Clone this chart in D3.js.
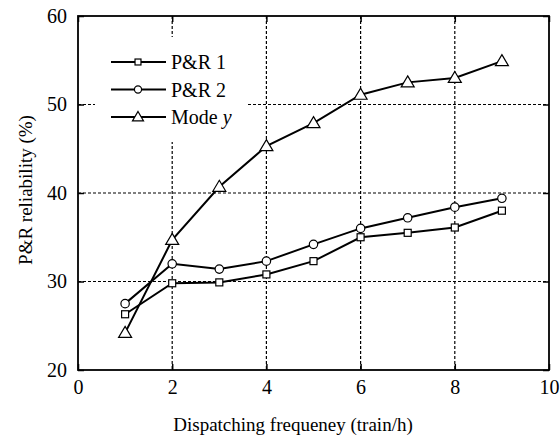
<!DOCTYPE html>
<meta charset="utf-8">
<style>
  body { margin: 0; background: #fff; }
</style>
<svg id="chart" width="560" height="439"></svg>
<script src="https://d3js.org/d3.v7.min.js"></script>
<script>

var freq = [1, 2, 3, 4, 5, 6, 7, 8, 9];
var pr1 = [26.3, 29.8, 29.9, 30.8, 32.3, 35.0, 35.5, 36.1, 38.0];
var pr2 = [27.5, 32.0, 31.4, 32.3, 34.2, 36.0, 37.2, 38.4, 39.4];
var modeY = [24.2, 34.7, 40.7, 45.3, 47.9, 51.1, 52.5, 53.0, 54.9];
var xTicks = [0, 2, 4, 6, 8, 10];
var yTicks = [20, 30, 40, 50, 60];

var series = [
	{ name: "P&R 1", values: pr1, marker: "square" },
	{ name: "P&R 2", values: pr2, marker: "circle" },
	{ name: "Mode", italic: "y", values: modeY, marker: "triangle" }
];

var serif = "'Liberation Serif'";

var svg = d3.select("svg#chart"),
	pLeft = 78, pRight = 549, pTop = 16, pBottom = 370;

var x = d3.scaleLinear().domain([0, 10]).range([pLeft, pRight]);
var y = d3.scaleLinear().domain([20, 60]).range([pBottom, pTop]);

// grid
var grid = svg.append("g")
	.attr("stroke", "#000")
	.attr("stroke-width", 1.2)
	.attr("stroke-dasharray", "3,2");

grid.selectAll("line.v")
	.data(xTicks.slice(1, -1))
	.enter().append("line")
		.attr("x1", function(d) { return x(d); })
		.attr("x2", function(d) { return x(d); })
		.attr("y1", pTop)
		.attr("y2", pBottom);

grid.selectAll("line.h")
	.data(yTicks.slice(1, -1))
	.enter().append("line")
		.attr("x1", pLeft)
		.attr("x2", pRight)
		.attr("y1", function(d) { return y(d); })
		.attr("y2", function(d) { return y(d); });

// legend background hides the grid behind it
svg.append("rect")
	.attr("x", 95).attr("y", 37)
	.attr("width", 152).attr("height", 105)
	.attr("fill", "#fff");

// axes, ticks inside on all four sides
var tick = 6;
svg.append("g")
	.attr("transform", "translate(0," + pBottom + ")")
	.call(d3.axisBottom(x).tickValues(xTicks).tickSizeInner(-tick).tickSizeOuter(0).tickPadding(10));
svg.append("g")
	.attr("transform", "translate(0," + pTop + ")")
	.call(d3.axisTop(x).tickValues(xTicks).tickSizeInner(-tick).tickSizeOuter(0).tickFormat(""));
svg.append("g")
	.attr("transform", "translate(" + pLeft + ",0)")
	.call(d3.axisLeft(y).tickValues(yTicks).tickSizeInner(-tick).tickSizeOuter(0).tickPadding(11));
svg.append("g")
	.attr("transform", "translate(" + pRight + ",0)")
	.call(d3.axisRight(y).tickValues(yTicks).tickSizeInner(-tick).tickSizeOuter(0).tickFormat(""));

svg.selectAll(".domain").remove();
svg.selectAll(".tick line").attr("stroke-width", 1.5);
svg.selectAll(".tick text")
	.style("font-family", serif)
	.style("font-size", "20px")
	.attr("fill", "#000");

svg.append("rect")
	.attr("x", pLeft).attr("y", pTop)
	.attr("width", pRight - pLeft).attr("height", pBottom - pTop)
	.attr("fill", "none")
	.attr("stroke", "#000")
	.attr("stroke-width", 1.8);

// markers
function drawMarker(g, type, cx, cy, s) {
	s = s || 1;
	if (type === "square") {
		g.append("rect").attr("x", cx - 3.5 * s).attr("y", cy - 3.5 * s).attr("width", 7 * s).attr("height", 7 * s)
			.attr("fill", "#fff").attr("stroke", "#000").attr("stroke-width", 1.2);
	} else if (type === "circle") {
		g.append("circle").attr("cx", cx).attr("cy", cy).attr("r", 4.2 * s)
			.attr("fill", "#fff").attr("stroke", "#000").attr("stroke-width", 1.2);
	} else {
		g.append("path")
			.attr("d", "M" + cx + "," + (cy - 6.5 * s) + "L" + (cx + 6.5 * s) + "," + (cy + 4.5 * s) + "L" + (cx - 6.5 * s) + "," + (cy + 4.5 * s) + "Z")
			.attr("fill", "#fff").attr("stroke", "#000").attr("stroke-width", 1.2);
	}
}

var line = d3.line()
	.x(function(d) { return x(d[0]); })
	.y(function(d) { return y(d[1]); });

series.forEach(function(s) {
	var pts = freq.map(function(f, i) { return [f, s.values[i]]; });
	svg.append("path")
		.attr("d", line(pts))
		.attr("fill", "none")
		.attr("stroke", "#000")
		.attr("stroke-width", 2);
	var g = svg.append("g");
	pts.forEach(function(p) { drawMarker(g, s.marker, x(p[0]), y(p[1])); });
});

// legend
var legend = svg.append("g");
series.forEach(function(s, i) {
	var ly = 62 + i * 27.5;
	legend.append("line")
		.attr("x1", 111).attr("x2", 166)
		.attr("y1", ly).attr("y2", ly)
		.attr("stroke", "#000").attr("stroke-width", 2);
	drawMarker(legend, s.marker, 138, ly, 0.85);
	var t = legend.append("text")
		.attr("x", 171).attr("y", ly + 7)
		.style("font-family", serif)
		.style("font-size", "20px")
		.text(s.name);
	if (s.italic) {
		t.append("tspan").style("font-style", "italic").text(" " + s.italic);
	}
});

// axis titles
svg.append("text")
	.attr("x", 293)
	.attr("y", 431)
	.attr("text-anchor", "middle")
	.style("font-family", serif)
	.style("font-size", "19px")
	.text("Dispatching frequeney (train/h)");

svg.append("text")
	.attr("transform", "translate(32,190) rotate(-90)")
	.attr("text-anchor", "middle")
	.style("font-family", serif)
	.style("font-size", "19px")
	.text("P&R reliability (%)");

</script>
